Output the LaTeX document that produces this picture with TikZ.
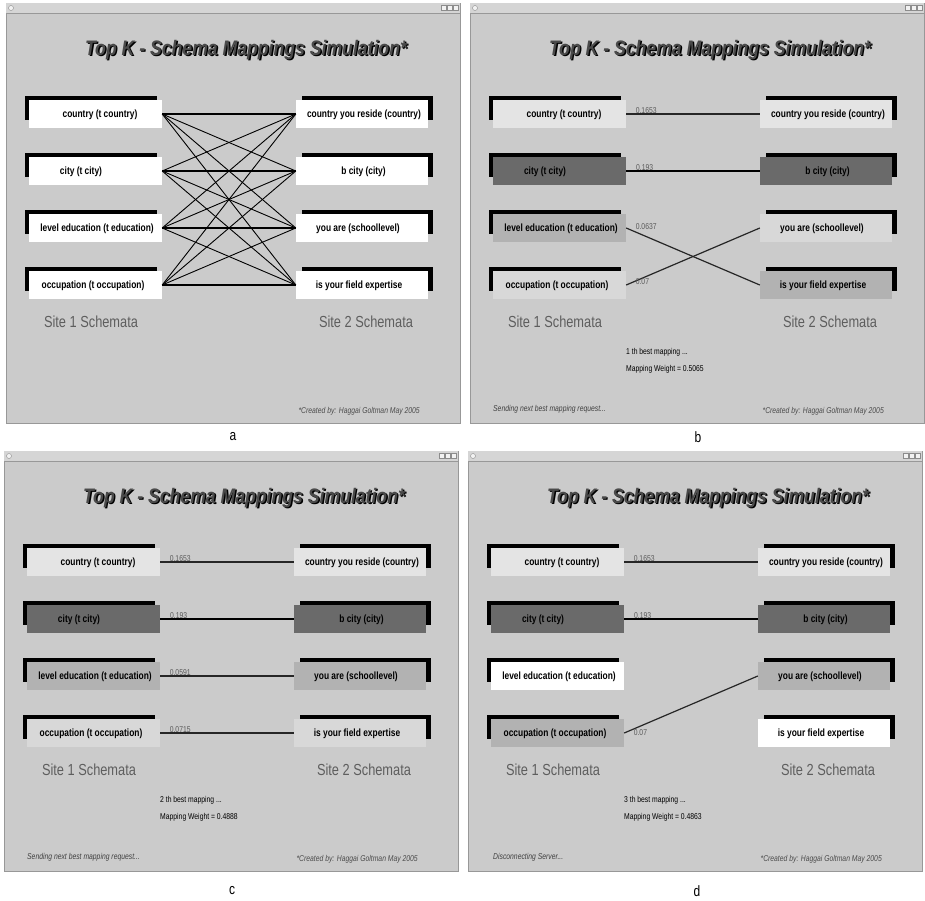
\documentclass[tikz,border=0pt]{standalone}
\usepackage{fontspec}
\setmainfont{Liberation Sans}

% grey palette of the simulation windows
\definecolor{winbody}{HTML}{CBCBCB}
\definecolor{winedge}{HTML}{989898}
\definecolor{barfill}{HTML}{D5D5D5}
\definecolor{titlegray}{HTML}{4A4A4A}
\definecolor{sitegray}{HTML}{5E5E5E}
\definecolor{lightbox}{HTML}{E4E4E4}
\definecolor{darkbox}{HTML}{6A6A6A}
\definecolor{midbox}{HTML}{B2B2B2}
\definecolor{palebox}{HTML}{D8D8D8}

% horizontally condensed text, as in the captured windows
\newcommand\cnd[2][0.8]{\scalebox{#1}[1]{#2}}

\tikzset{
  lbox/.style={rectangle, minimum width=133pt, minimum height=28pt, inner sep=0pt},
  rbox/.style={lbox, minimum width=132pt},
  boxtxt/.style={inner sep=0pt, font=\fontsize{10.5}{12}\selectfont\bfseries},
  sitetxt/.style={inner sep=0pt, text=sitegray, font=\fontsize{16}{18}\selectfont},
  credit/.style={inner sep=0pt, text=black!70, font=\fontsize{8.5}{10}\selectfont\itshape},
  info/.style={inner sep=0pt, anchor=west, font=\fontsize{8.5}{10}\selectfont},
  status/.style={inner sep=0pt, anchor=west, text=black!75, font=\fontsize{8.5}{10}\selectfont\itshape},
  wlbl/.style={inner sep=0pt, pos=0, anchor=base west, xshift=9pt, yshift=1pt,
               text=black!65, font=\fontsize{8.5}{10}\selectfont},
  mesh/.style={line width=0.9pt, black},
  meshflat/.style={line width=1.4pt, black},
  mapline/.style={line width=1.2pt, black!85},
  strongline/.style={line width=2pt, black},
  btn/.style={fill=black!5, draw=black!45, line width=0.4pt},
  panlbl/.style={inner sep=0pt, font=\fontsize{15}{17}\selectfont},
}

% one window: #1 name prefix, #2-#5 left field fills, #6-#9 right field fills
\newcommand\schemapanel[9]{%
  \filldraw[fill=winbody, draw=winedge, line width=1pt] (0,0) rectangle (454,420);
  \fill[barfill] (0,0) rectangle (454,10);
  \draw[winedge, line width=0.8pt] (0,10) -- (454,10);
  \filldraw[btn] (5,5) circle (2.5pt);
  \foreach \bx in {435,441,447} {\filldraw[btn] (\bx,2.5) rectangle ++(5,5);}
  % title with its drop shadow
  \node[inner sep=0pt, font=\fontsize{21}{24}\selectfont\bfseries\itshape]
    at (241.4,48.4) {\cnd[0.84]{Top K - Schema Mappings Simulation*}};
  \node[inner sep=0pt, text=titlegray, font=\fontsize{21}{24}\selectfont\bfseries\itshape]
    (#1title) at (240,47) {\cnd[0.84]{Top K - Schema Mappings Simulation*}};
  % black frames behind the field boxes
  \foreach \r in {0,1,2,3} {
    \fill[black] (19,93+57*\r) rectangle (151,117+57*\r);
    \fill[black] (296,93+57*\r) rectangle (427,117+57*\r);
  }
  % field boxes
  \node[lbox, fill=#2] (#1L1) at (89.5,111) {};
  \node[lbox, fill=#3] (#1L2) at (89.5,168) {};
  \node[lbox, fill=#4] (#1L3) at (89.5,225) {};
  \node[lbox, fill=#5] (#1L4) at (89.5,282) {};
  \node[rbox, fill=#6] (#1R1) at (356,111) {};
  \node[rbox, fill=#7] (#1R2) at (356,168) {};
  \node[rbox, fill=#8] (#1R3) at (356,225) {};
  \node[rbox, fill=#9] (#1R4) at (356,282) {};
  \node[boxtxt] (#1tL1) at (94,112) {\cnd{country (t country)}};
  \node[boxtxt] (#1tL2) at (75,169) {\cnd{city (t city)}};
  \node[boxtxt] (#1tL3) at (91,226) {\cnd{level education (t education)}};
  \node[boxtxt] (#1tL4) at (87,283) {\cnd{occupation (t occupation)}};
  \node[boxtxt] (#1tR1) at (358,112) {\cnd{country you reside (country)}};
  \node[boxtxt] (#1tR2) at (357.5,169) {\cnd{b city (city)}};
  \node[boxtxt] (#1tR3) at (352,226) {\cnd{you are (schoollevel)}};
  \node[boxtxt] (#1tR4) at (353,283) {\cnd{is your field expertise}};
  % captions
  \node[sitetxt] (#1site1) at (85,319) {\cnd{Site 1 Schemata}};
  \node[sitetxt] (#1site2) at (360,319) {\cnd{Site 2 Schemata}};
  \node[credit, anchor=east] (#1credit) at (414,408) {\cnd{*Created by: Haggai Goltman May 2005}};
}

\begin{document}
\begin{tikzpicture}[x=1pt, y=-1pt]
\fill[white] (0,0) rectangle (925,900);
\useasboundingbox (0,0) rectangle (925,900);

% (a) every field of site 1 joined to every field of site 2
\begin{scope}[shift={(6,3)}]
  \schemapanel{a}{white}{white}{white}{white}{white}{white}{white}{white}
  \foreach \i in {1,2,3,4} {
    \foreach \j in {1,2,3,4} {
      \draw[mesh] (aL\i.east) -- (aR\j.west);
    }
    \draw[meshflat] (aL\i.east) -- (aR\i.west);
  }
\end{scope}

% (b) first best mapping
\begin{scope}[shift={(470,3)}]
  \schemapanel{b}{lightbox}{darkbox}{midbox}{palebox}{lightbox}{darkbox}{palebox}{midbox}
  \draw[mapline] (bL1.east) -- (bR1.west) node[wlbl] {\cnd{0.1653}};
  \draw[strongline] (bL2.east) -- (bR2.west) node[wlbl] {\cnd{0.193}};
  \draw[mapline] (bL3.east) -- (bR4.west) node[wlbl, yshift=-2pt] {\cnd{0.0637}};
  \draw[mapline] (bL4.east) -- (bR3.west) node[wlbl] {\cnd{0.07}};
  \node[info] (bk) at (156,349) {\cnd{1 th best mapping ...}};
  \node[info] (bw) at (156,366) {\cnd{Mapping Weight = 0.5065}};
  \node[status] (bst) at (23,406) {\cnd{Sending next best mapping request...}};
\end{scope}

% (c) second best mapping
\begin{scope}[shift={(4,451)}]
  \schemapanel{c}{lightbox}{darkbox}{midbox}{palebox}{lightbox}{darkbox}{midbox}{palebox}
  \draw[mapline] (cL1.east) -- (cR1.west) node[wlbl] {\cnd{0.1653}};
  \draw[strongline] (cL2.east) -- (cR2.west) node[wlbl] {\cnd{0.193}};
  \draw[mapline] (cL3.east) -- (cR3.west) node[wlbl] {\cnd{0.0591}};
  \draw[mapline] (cL4.east) -- (cR4.west) node[wlbl] {\cnd{0.0715}};
  \node[info] (ck) at (156,349) {\cnd{2 th best mapping ...}};
  \node[info] (cw) at (156,366) {\cnd{Mapping Weight = 0.4888}};
  \node[status] (cst) at (23,406) {\cnd{Sending next best mapping request...}};
\end{scope}

% (d) third best mapping
\begin{scope}[shift={(468,451)}]
  \schemapanel{d}{lightbox}{darkbox}{white}{midbox}{lightbox}{darkbox}{midbox}{white}
  \draw[mapline] (dL1.east) -- (dR1.west) node[wlbl] {\cnd{0.1653}};
  \draw[strongline] (dL2.east) -- (dR2.west) node[wlbl] {\cnd{0.193}};
  \draw[mapline] (dL4.east) -- (dR3.west) node[wlbl, yshift=-3pt] {\cnd{0.07}};
  \node[info] (dk) at (156,349) {\cnd{3 th best mapping ...}};
  \node[info] (dw) at (156,366) {\cnd{Mapping Weight = 0.4863}};
  \node[status] (dst) at (25,406) {\cnd{Disconnecting Server...}};
\end{scope}

% sub-figure letters
\node[panlbl] (la) at (233,437) {\cnd{a}};
\node[panlbl] (lb) at (698,437) {\cnd{b}};
\node[panlbl] (lc) at (232,891) {\cnd{c}};
\node[panlbl] (ld) at (697,891) {\cnd{d}};
\end{tikzpicture}
\end{document}
